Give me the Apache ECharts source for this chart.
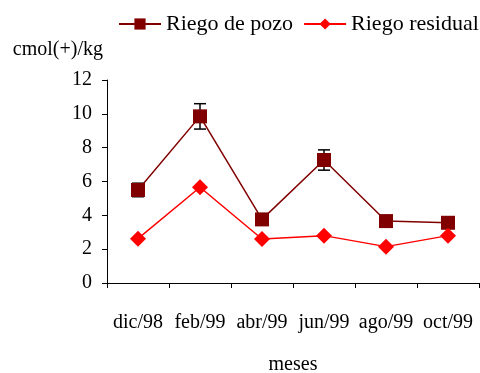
<!DOCTYPE html>
<html>
<head>
<meta charset="utf-8">
<script src="https://cdn.jsdelivr.net/npm/echarts@6/dist/echarts.min.js"></script>
<style>html,body{margin:0;padding:0;background:#fff;}#c{width:480px;height:373px;}</style>
</head>
<body>
<div id="c"></div>
<script>
var categories = ['dic/98', 'feb/99', 'abr/99', 'jun/99', 'ago/99', 'oct/99'];
var pozo = [5.5, 9.85, 3.76, 7.27, 3.66, 3.56];
var pozoErr = [0.4, 0.75, 0.12, 0.6, 0.08, 0.08];
var residual = [2.62, 5.66, 2.6, 2.8, 2.15, 2.8];
var yTicks = [0, 2, 4, 6, 8, 10, 12];

var font = "'Liberation Serif', 'Times New Roman', serif";
var chart = echarts.init(document.getElementById('c'));
var errData = pozo.map(function (v, i) { return [i, v - pozoErr[i], v + pozoErr[i]]; });

chart.setOption({
  animation: false,
  textStyle: { fontFamily: font },
  legend: {
    top: 13, left: 118, width: 400, padding: 0,
    itemWidth: 42, itemHeight: 14, itemGap: 10,
    textStyle: { fontFamily: font, fontSize: 22, color: '#000' },
    data: ['Riego de pozo', 'Riego residual']
  },
  grid: { left: 107, right: 1, top: 80, bottom: 90, containLabel: false, outerBoundsMode: 'none' },
  xAxis: {
    type: 'category', data: categories, boundaryGap: true,
    name: 'meses', nameLocation: 'middle', nameGap: 72,
    nameTextStyle: { fontFamily: font, fontSize: 20, color: '#000' },
    axisLine: { lineStyle: { color: '#000', width: 1 } },
    axisTick: { show: true, length: 5, inside: false, lineStyle: { color: '#000' } },
    axisLabel: { interval: 0, margin: 30, fontFamily: font, fontSize: 20, color: '#000' }
  },
  yAxis: {
    type: 'value', min: yTicks[0], max: yTicks[yTicks.length - 1], interval: 2,
    name: 'cmol(+)/kg', nameLocation: 'end', nameGap: 20,
    nameTextStyle: { fontFamily: font, fontSize: 20, color: '#000', align: 'right', padding: [0, 4, 0, 0] },
    axisLine: { show: true, lineStyle: { color: '#000', width: 1 } },
    axisTick: { show: true, length: 5, lineStyle: { color: '#000' } },
    splitLine: { show: false },
    axisLabel: { margin: 15, fontFamily: font, fontSize: 20, color: '#000' }
  },
  series: [
    {
      name: 'errores', type: 'custom', z: 1,
      data: errData,
      renderItem: function (params, api) {
        var x = api.value(0);
        var lo = api.coord([x, api.value(1)]);
        var hi = api.coord([x, api.value(2)]);
        var w = 6;
        var st = { stroke: '#000', lineWidth: 1.5 };
        return {
          type: 'group',
          children: [
            { type: 'line', shape: { x1: lo[0], y1: lo[1], x2: hi[0], y2: hi[1] }, style: st },
            { type: 'line', shape: { x1: lo[0] - w, y1: lo[1], x2: lo[0] + w, y2: lo[1] }, style: st },
            { type: 'line', shape: { x1: hi[0] - w, y1: hi[1], x2: hi[0] + w, y2: hi[1] }, style: st }
          ]
        };
      }
    },
    {
      name: 'Riego de pozo', type: 'line', z: 3, data: pozo,
      symbol: 'rect', symbolSize: 14,
      lineStyle: { color: '#800000', width: 1.5 },
      itemStyle: { color: '#800000' }
    },
    {
      name: 'Riego residual', type: 'line', z: 3, data: residual,
      symbol: 'diamond', symbolSize: 16,
      lineStyle: { color: '#ff0000', width: 1.5 },
      itemStyle: { color: '#ff0000' }
    }
  ]
});
</script>
</body>
</html>
